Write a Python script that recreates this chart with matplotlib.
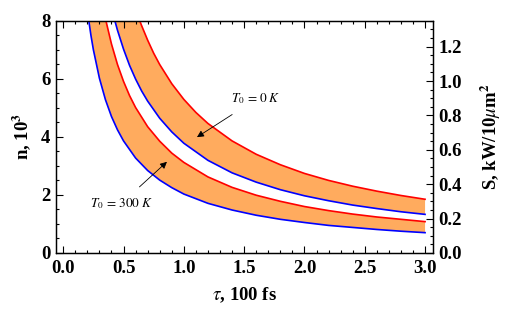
import matplotlib
matplotlib.use('Agg')
import matplotlib.pyplot as plt
import numpy as np
from matplotlib.ticker import MultipleLocator

plt.rcParams['font.family'] = ['Liberation Serif', 'DejaVu Serif']
plt.rcParams['mathtext.fontset'] = 'stix'

# T0 = 0 K band: upper (red) and lower (blue) edges
tau_red_0k = [0.634, 0.65, 0.7, 0.75, 0.8, 0.9, 1.0, 1.1, 1.2, 1.4, 1.6, 1.8,
              2.0, 2.2, 2.4, 2.6, 2.8, 3.0]
n_red_0k = [8.00, 7.83, 7.33, 6.88, 6.49, 5.83, 5.29, 4.84, 4.46, 3.86, 3.40,
            3.04, 2.74, 2.50, 2.30, 2.13, 1.98, 1.85]

tau_blue_0k = [0.428, 0.45, 0.5, 0.55, 0.6, 0.65, 0.7, 0.8, 0.9, 1.0, 1.2, 1.4,
               1.6, 1.8, 2.0, 2.2, 2.4, 2.6, 2.8, 3.0]
n_blue_0k = [8.00, 7.67, 7.02, 6.46, 5.99, 5.58, 5.23, 4.64, 4.17, 3.78, 3.19,
             2.76, 2.44, 2.18, 1.97, 1.80, 1.65, 1.53, 1.42, 1.33]

# T0 = 300 K band
tau_red_300k = [0.354, 0.4, 0.45, 0.5, 0.55, 0.6, 0.7, 0.8, 0.9, 1.0, 1.2, 1.4,
                1.6, 1.8, 2.0, 2.2, 2.4, 2.6, 2.8, 3.0]
n_red_300k = [8.00, 7.20, 6.49, 5.91, 5.42, 5.01, 4.35, 3.85, 3.44, 3.12, 2.62,
              2.26, 1.99, 1.78, 1.60, 1.46, 1.34, 1.24, 1.16, 1.08]

tau_blue_300k = [0.212, 0.23, 0.25, 0.3, 0.35, 0.4, 0.45, 0.5, 0.6, 0.7, 0.8,
                 0.9, 1.0, 1.2, 1.4, 1.6, 1.8, 2.0, 2.2, 2.4, 2.6, 2.8, 3.0]
n_blue_300k = [8.00, 7.49, 7.00, 6.02, 5.28, 4.70, 4.24, 3.86, 3.27, 2.84, 2.51,
               2.25, 2.03, 1.71, 1.48, 1.30, 1.16, 1.05, 0.95, 0.88, 0.81, 0.75,
               0.70]

orange = '#ffab5e'

fig = plt.figure(figsize=(5.08, 3.16), dpi=100)
ax = fig.add_axes([0.1102, 0.1994, 0.7422, 0.7351])

for tr, nr, tb, nb in [(tau_red_0k, n_red_0k, tau_blue_0k, n_blue_0k),
                       (tau_red_300k, n_red_300k, tau_blue_300k, n_blue_300k)]:
    xs = np.concatenate([tr, tb[::-1]])
    ys = np.concatenate([nr, nb[::-1]])
    ax.fill(xs, ys, color=orange, lw=0, zorder=1)
    ax.plot(tr, nr, color='#ff0000', lw=1.2, zorder=3)
    ax.plot(tb, nb, color='#0000ff', lw=1.2, zorder=3)

ax.set_xlim(-0.06, 3.066)
ax.set_ylim(0, 8)

ax.annotate(r'$T_0\,=\,\mathrm{0}\;K$', xy=(1.109, 3.99), xytext=(1.60, 5.3),
            ha='center', va='center', fontsize=9.5,
            arrowprops=dict(arrowstyle='-|>', color='black', lw=0.6,
                            shrinkA=7, shrinkB=0, mutation_scale=10))
ax.annotate(r'$T_0\,=\,\mathrm{300}\;K$', xy=(0.86, 3.14), xytext=(0.48, 1.70),
            ha='center', va='center', fontsize=9.5,
            arrowprops=dict(arrowstyle='-|>', color='black', lw=0.6,
                            shrinkA=7, shrinkB=0, mutation_scale=10))

ax.xaxis.set_major_locator(MultipleLocator(0.5))
ax.xaxis.set_minor_locator(MultipleLocator(0.1))
ax.yaxis.set_major_locator(MultipleLocator(2))
ax.yaxis.set_minor_locator(MultipleLocator(0.5))
ax.tick_params(which='both', direction='in', top=True, right=False,
               labelsize=13.5, width=0.8)
ax.tick_params(which='major', length=5)
ax.tick_params(which='minor', length=2.5)
ax.tick_params(axis='x', pad=5)
ax.tick_params(axis='y', pad=4)
for lab in ax.get_xticklabels() + ax.get_yticklabels():
    lab.set_fontweight('bold')

ax2 = ax.twinx()
ax2.set_ylim(0, 1.351)
ax2.yaxis.set_major_locator(MultipleLocator(0.2))
ax2.yaxis.set_minor_locator(MultipleLocator(0.05))
ax2.tick_params(which='both', direction='in', labelsize=13.5, width=0.8,
                pad=4)
ax2.tick_params(which='major', length=5)
ax2.tick_params(which='minor', length=2.5)
for lab in ax2.get_yticklabels():
    lab.set_fontweight('bold')

for a in (ax, ax2):
    for s in a.spines.values():
        s.set_linewidth(0.9)

ax.set_xlabel(r'$\tau$, 100 fs', fontsize=13.5, fontweight='bold', labelpad=6)
ax.set_ylabel(r'n, 10$^{\mathbf{3}}$', fontsize=13.5, fontweight='bold',
              labelpad=6)
ax2.set_ylabel(r'S, kW/10$\mu$m$^{\mathbf{2}}$', fontsize=13.5,
               fontweight='bold', labelpad=12)

fig.savefig('out.png', dpi=100)
